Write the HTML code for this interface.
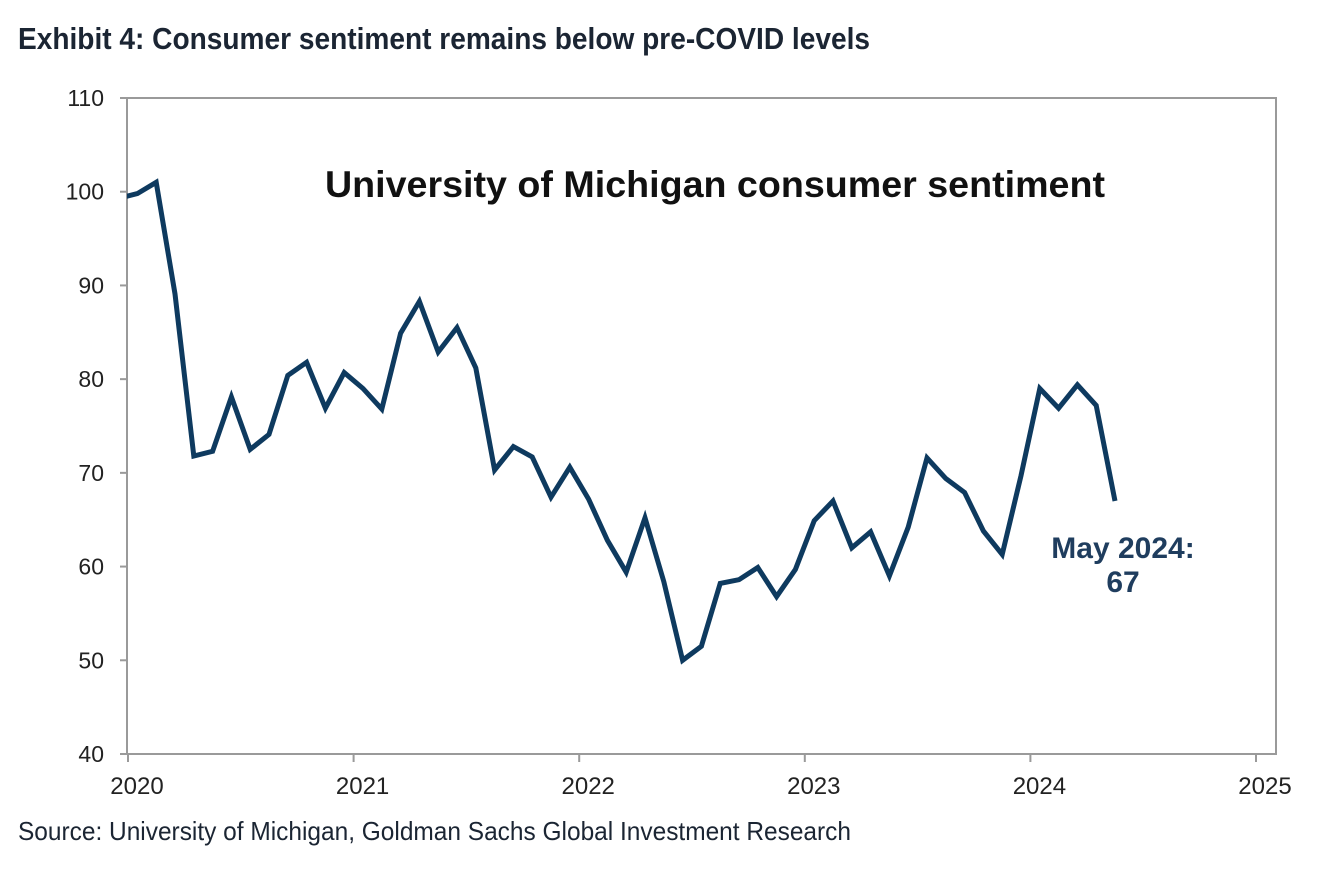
<!DOCTYPE html>
<html><head><meta charset="utf-8"><style>
html,body{margin:0;padding:0;background:#fff;width:1328px;height:870px;overflow:hidden}
svg{display:block}
</style></head><body>
<svg id="chart" width="1328" height="870">
<text x="18" y="49" font-family="'Liberation Sans Narrow','Liberation Sans',sans-serif" font-weight="bold" font-size="31" fill="#1b2533" textLength="852" lengthAdjust="spacingAndGlyphs">Exhibit 4: Consumer sentiment remains below pre-COVID levels</text>
<rect x="127" y="98" width="1149" height="656" fill="none" stroke="#9a9a9a" stroke-width="2"/>
<g id="yaxis"></g>
<g id="xaxis"></g>
<text x="715" y="197" text-anchor="middle" font-family="'Liberation Sans',sans-serif" font-weight="bold" font-size="37" fill="#111" textLength="780" lengthAdjust="spacingAndGlyphs">University of Michigan consumer sentiment</text>
<defs><clipPath id="clip"><rect x="127" y="98" width="1149" height="656"/></clipPath></defs>
<path id="line" clip-path="url(#clip)" fill="none" stroke="#0e3a5f" stroke-width="5" stroke-linejoin="miter"/>
<text x="1123" y="558" text-anchor="middle" font-family="'Liberation Sans',sans-serif" font-weight="bold" font-size="30" fill="#1f3d5e">May 2024:</text>
<text x="1123" y="592" text-anchor="middle" font-family="'Liberation Sans',sans-serif" font-weight="bold" font-size="30" fill="#1f3d5e">67</text>
<text x="18" y="840" font-family="'Liberation Sans Narrow','Liberation Sans',sans-serif" font-size="26" fill="#1b2533" textLength="833" lengthAdjust="spacingAndGlyphs">Source: University of Michigan, Goldman Sachs Global Investment Research</text>
</svg>
<script>
const startIndex = -1; // Dec 2019
const values = [99.3,99.8,101.0,89.1,71.8,72.3,78.1,72.5,74.1,80.4,81.8,76.9,80.7,
79.0,76.8,84.9,88.3,82.9,85.5,81.2,70.3,72.8,71.7,67.4,70.6,
67.2,62.8,59.4,65.2,58.4,50.0,51.5,58.2,58.6,59.9,56.8,59.7,
64.9,67.0,62.0,63.7,59.0,64.2,71.6,69.4,67.9,63.8,61.3,69.7,
79.0,76.9,79.4,77.2,67.0];
const yTicks = [40,50,60,70,80,90,100,110];
const xTicks = [2020,2021,2022,2023,2024,2025];
const NS='http://www.w3.org/2000/svg';
function ys(v){return 754-(v-40)*(656/70);}
function xs(t){return 128+(t-2020)*225.6;}
const yg=document.getElementById('yaxis'), xg=document.getElementById('xaxis');
yTicks.forEach(v=>{
  const l=document.createElementNS(NS,'line');
  l.setAttribute('x1',120);l.setAttribute('x2',127);l.setAttribute('y1',ys(v));l.setAttribute('y2',ys(v));
  l.setAttribute('stroke','#9a9a9a');l.setAttribute('stroke-width',2);
  
  
  yg.appendChild(l);
  const t=document.createElementNS(NS,'text');
  t.setAttribute('x',104);t.setAttribute('y',ys(v)+8);t.setAttribute('text-anchor','end');
  t.setAttribute('font-family',"'Liberation Sans',sans-serif");t.setAttribute('font-size',23);t.setAttribute('fill','#222');
  t.textContent=v;
  
  
  yg.appendChild(t);
});
xTicks.forEach(v=>{
  const l=document.createElementNS(NS,'line');
  l.setAttribute('x1',xs(v));l.setAttribute('x2',xs(v));l.setAttribute('y1',754);l.setAttribute('y2',762);
  l.setAttribute('stroke','#9a9a9a');l.setAttribute('stroke-width',2);
  
  
  xg.appendChild(l);
  const t=document.createElementNS(NS,'text');
  t.setAttribute('x',xs(v)+9);t.setAttribute('y',794);t.setAttribute('text-anchor','middle');
  t.setAttribute('font-family',"'Liberation Sans',sans-serif");t.setAttribute('font-size',24);t.setAttribute('fill','#222');
  t.textContent=v;
  
  
  xg.appendChild(t);
});
let d='';
values.forEach((v,i)=>{
  const t=2020+(startIndex+i+0.5)/12;
  d+=(i?'L':'M')+xs(t).toFixed(1)+','+ys(v).toFixed(1);
});
document.getElementById('line').setAttribute('d',d);
</script>
</body></html>
